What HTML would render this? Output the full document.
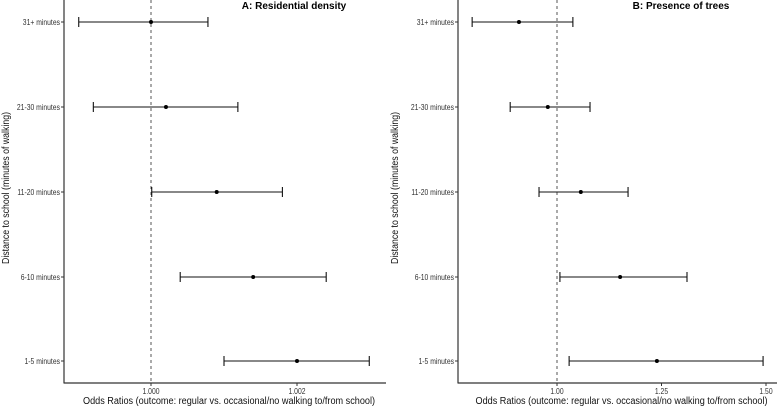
<!DOCTYPE html>
<html><head><meta charset="utf-8"><style>
body{margin:0;background:#fff;width:778px;height:407px;overflow:hidden}
svg{font-family:"Liberation Sans",sans-serif}
</style></head><body>
<svg id="chart" width="778" height="407"></svg>
<script>
const categories = ["31+ minutes","21-30 minutes","11-20 minutes","6-10 minutes","1-5 minutes"];
const aEst = [1.0000, 1.000205, 1.0009, 1.0014, 1.0020];
const aLo  = [0.99901, 0.99921, 1.00001, 1.0004, 1.0010];
const aHi  = [1.00078, 1.00119, 1.0018, 1.0024, 1.00299];
const aTicks = [1.000, 1.002];
const aTickLabels = ["1.000","1.002"];
const bEst = [0.909, 0.978, 1.057, 1.151, 1.239];
const bLo  = [0.797, 0.888, 0.957, 1.007, 1.029];
const bHi  = [1.038, 1.079, 1.170, 1.311, 1.493];
const bTicks = [1.00, 1.25, 1.50];
const bTickLabels = ["1.00","1.25","1.50"];

const NS="http://www.w3.org/2000/svg";
const svg=document.getElementById('chart');
function mk(tag,attrs,parent,text){const e=document.createElementNS(NS,tag);for(const k in attrs)e.setAttribute(k,attrs[k]);if(text!==undefined)e.textContent=text;(parent||svg).appendChild(e);return e;}
function squeeze(t,f){const w=t.getComputedTextLength();t.setAttribute('textLength',(w*f).toFixed(1));t.setAttribute('lengthAdjust','spacingAndGlyphs');}
const rowY=[22,107,192,277,361];

function panel(p){
  const g=mk('g',{});
  
  
  const x=v=>p.x0+(v-p.v0)*p.scale;
  const ref=mk('line',{x1:x(1),x2:x(1),y1:0,y2:383,stroke:'#555','stroke-width':1,'stroke-dasharray':'3,3'},g);
  
  
  const ya=mk('line',{x1:p.left,x2:p.left,y1:0,y2:383.5,stroke:'#333','stroke-width':1.2},g);
  
  
  const xa=mk('line',{x1:p.left,x2:p.right,y1:383,y2:383,stroke:'#333','stroke-width':1.2},g);
  
  
  categories.forEach((c,i)=>{
    const y=rowY[i];
    mk('line',{x1:p.left-3,x2:p.left,y1:y,y2:y,stroke:'#333'},g);
    const t=mk('text',{x:p.left-4,y:y+3,'text-anchor':'end','font-size':8.5,fill:'#333'},g,c);
    
    
    squeeze(t,0.8);
    const eb=mk('g',{stroke:'#111','stroke-width':1.1},g);
    
    
    mk('line',{x1:x(p.lo[i]),x2:x(p.hi[i]),y1:y,y2:y},eb);
    mk('line',{x1:x(p.lo[i]),x2:x(p.lo[i]),y1:y-5,y2:y+5},eb);
    mk('line',{x1:x(p.hi[i]),x2:x(p.hi[i]),y1:y-5,y2:y+5},eb);
    const pt=mk('circle',{cx:x(p.est[i]),cy:y,r:2,fill:'#000'},g);
    
    
  });
  p.ticks.forEach((v,i)=>{
    mk('line',{x1:x(v),x2:x(v),y1:383,y2:386,stroke:'#333'},g);
    const t=mk('text',{x:x(v),y:394,'text-anchor':'middle','font-size':8,fill:'#333'},g,p.tickLabels[i]);
    
    
    squeeze(t,0.85);
  });
  const xt=mk('text',{x:(p.left+p.right)/2+4,y:404,'text-anchor':'middle','font-size':10,fill:'#111'},g,'Odds Ratios (outcome: regular vs. occasional/no walking to/from school)');
  
  
  xt.setAttribute('textLength','292');
  xt.setAttribute('lengthAdjust','spacingAndGlyphs');
  const yt=mk('text',{x:0,y:0,'text-anchor':'middle','font-size':10,fill:'#111',transform:`translate(${p.ytx},188) rotate(-90)`},g,'Distance to school (minutes of walking)');
  
  
  yt.setAttribute('textLength','152');
  yt.setAttribute('lengthAdjust','spacingAndGlyphs');
  const tt=mk('text',{x:p.titleX,y:9,'text-anchor':'middle','font-size':10,'font-weight':'bold',fill:'#000'},g,p.title);
  
  
}
panel({name:'panel-a-residential-density',x0:151,v0:1.0,scale:73000,left:64,right:386,est:aEst,lo:aLo,hi:aHi,ticks:aTicks,tickLabels:aTickLabels,ytx:9,titleX:294,title:'A: Residential density'});
panel({name:'panel-b-presence-of-trees',x0:557,v0:1.0,scale:418,left:458,right:777,est:bEst,lo:bLo,hi:bHi,ticks:bTicks,tickLabels:bTickLabels,ytx:398,titleX:681,title:'B: Presence of trees'});
</script>
</body></html>
